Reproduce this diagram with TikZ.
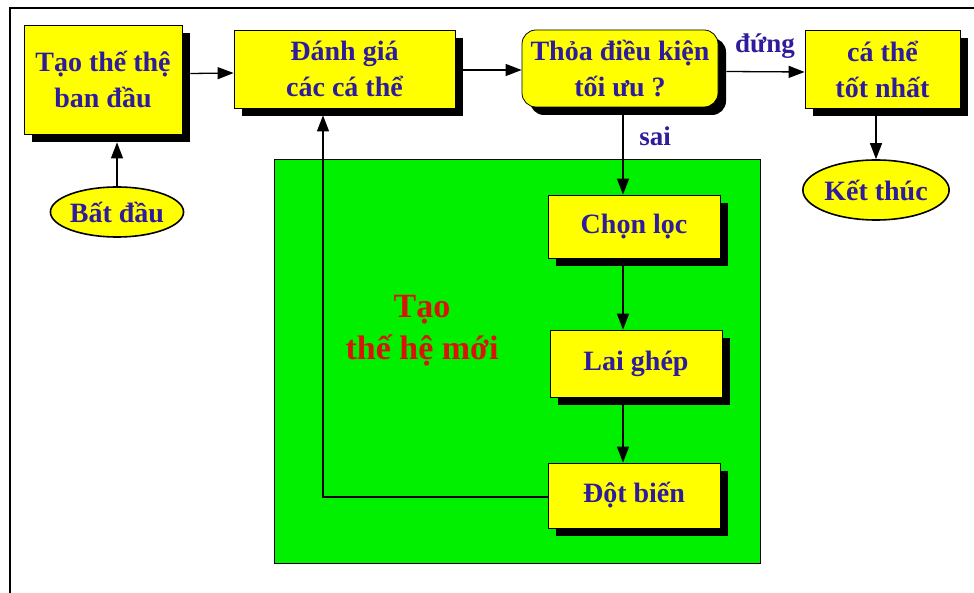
\documentclass[tikz,border=0pt]{standalone}
\usepackage{fontspec}
\setmainfont{Liberation Serif}
\usetikzlibrary{arrows.meta,shadows,shapes.geometric,calc}
\definecolor{navy}{HTML}{2E1C9C}
\definecolor{ylw}{HTML}{FFFF00}
\definecolor{grn}{HTML}{00F000}
\definecolor{rd}{HTML}{D81408}
\begin{document}
\begin{tikzpicture}[x=1pt,y=-1pt,
  txt/.style={text=navy,font=\bfseries\fontsize{28}{36}\selectfont,align=center},
  box/.style={txt,draw=black,line width=0.8pt,fill=ylw,inner sep=0pt,
    drop shadow={shadow xshift=8pt,shadow yshift=-8pt,opacity=1,fill=black}},
  oval/.style={txt,ellipse,draw=black,line width=1.6pt,fill=ylw,inner sep=0pt},
  arr/.style={line width=1.3pt,-{Triangle[length=16pt,width=12pt]}},
  lbl/.style={text=navy,font=\bfseries\fontsize{27}{30}\selectfont}]
\useasboundingbox (0,0) rectangle (974,593);
\fill[white] (0,0) rectangle (974,593);
\draw[line width=2pt] (974,8) -- (10,8) -- (10,593);
% green area
\node[draw=black,line width=1pt,fill=grn,minimum width=486pt,minimum height=403pt,inner sep=0pt] (gen) at (517,361.5) {};
\node[text=rd,font=\bfseries\fontsize{34}{42}\selectfont,align=center] (gentxt) at (422,331) {Tạo\\thế hệ mới};
% boxes
\node[box,minimum width=158pt,minimum height=109pt] (init) at (103,79.5) {Tạo thế thệ\\ban đầu};
\node[box,minimum width=221pt,minimum height=78pt] (eval) at (344.5,69) {Đánh giá\\các cá thể};
\node[box,rounded corners=14pt,minimum width=196pt,minimum height=77pt] (cond) at (620,68.5) {Thỏa điều kiện\\tối ưu ?};
\node[box,minimum width=155pt,minimum height=78pt] (best) at (882.5,69) {cá thể\\tốt nhất};
\node[box,minimum width=172pt,minimum height=63pt] (sel) at (634,226.5) {Chọn lọc};
\node[box,minimum width=172pt,minimum height=67pt] (cross) at (636,363.5) {Lai ghép};
\node[box,minimum width=172pt,minimum height=65pt] (mut) at (634,495.5) {Đột biến};
\node[oval,minimum width=127pt,minimum height=50pt] (start) at (117,212) {Bất đầu};
\node[oval,minimum width=128pt,minimum height=60pt] (stop) at (876,190) {Kết thúc};
% labels
\node[lbl] (ldung) at (765,46) {đứng};
\node[lbl] (lsai) at (655,136) {sai};
% connectors
\coordinate (vx) at (623,0);
\coordinate (fx) at (323,0);
\draw[arr] (start.north) -- ($(start.north |- init.south)+(0,8)$);
\draw[arr] ($(init.east)+(8,-6)$) -- (eval.west |- 0,73);
\draw[arr] ($(eval.east)+(8,1)$) -- (cond.west |- 0,70);
\draw[arr] ($(cond.east)+(8,3)$) -- (best.west |- 0,72);
\draw[arr] (cond.south -| vx) -- (sel.north -| vx);
\draw[arr] ($(sel.south -| vx)+(0,8)$) -- (cross.north -| vx);
\draw[arr] ($(cross.south -| vx)+(0,8)$) -- (mut.north -| vx);
\draw[arr] (mut.west |- 0,497) -| ($(eval.south -| fx)+(0,7)$);
\draw[arr] ($(stop.north |- best.south)+(0,8)$) -- (stop.north);
\end{tikzpicture}
\end{document}
